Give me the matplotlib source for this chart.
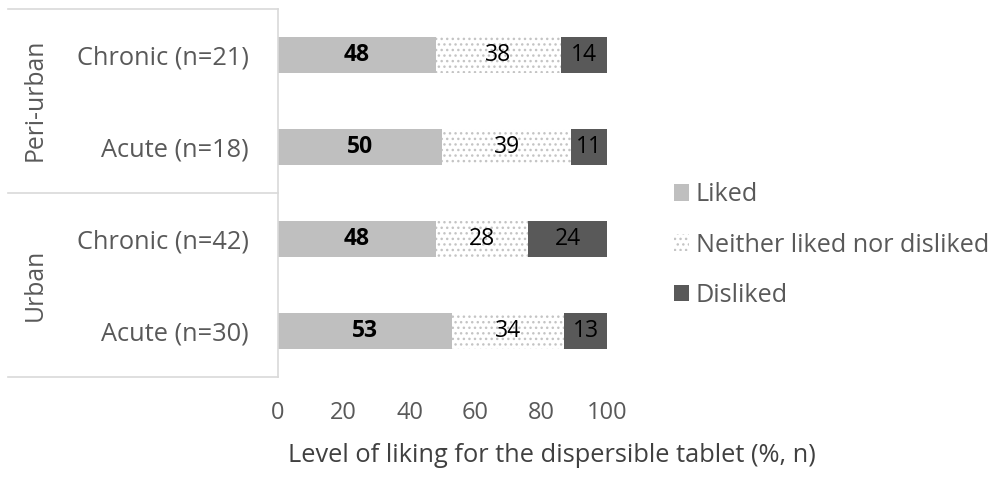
import matplotlib
matplotlib.use("Agg")
import matplotlib.pyplot as plt
from matplotlib.lines import Line2D
from matplotlib.patches import Patch

plt.rcParams['font.family'] = ['Open Sans', 'DejaVu Sans']
plt.rcParams['hatch.linewidth'] = 1.0

# Data (bottom to top)
categories = ["Acute (n=30)", "Chronic (n=42)", "Acute (n=18)", "Chronic (n=21)"]
groups = ["Urban", "Peri-urban"]
liked = [53, 48, 50, 48]
neither = [34, 28, 39, 38]
disliked = [13, 24, 11, 14]
series_names = ["Liked", "Neither liked nor disliked", "Disliked"]
x_ticks = [0, 20, 40, 60, 80, 100]

text_gray = "#595959"
dot_gray = "#C4C4C4"
fs = 18.3
fig = plt.figure(figsize=(10.01, 4.79), dpi=100)
ax = fig.add_axes([0.2777, 0.2129, 0.3287, 0.7683])

y = list(range(len(categories)))
h = 0.39
ax.barh(y, liked, height=h, color="#BFBFBF", linewidth=0)
left2 = liked
ax.barh(y, neither, left=left2, height=h, facecolor="white",
        edgecolor=dot_gray, hatch="...", linewidth=0)
left3 = [a + b for a, b in zip(liked, neither)]
ax.barh(y, disliked, left=left3, height=h, color="#595959", linewidth=0)

for i in y:
    ax.text(liked[i] / 2, i, str(liked[i]), ha="center", va="center",
            fontsize=16.5, fontweight="bold", color="black")
    ax.text(left2[i] + neither[i] / 2, i, str(neither[i]), ha="center",
            va="center", fontsize=16.5, color="black")
    ax.text(left3[i] + disliked[i] / 2, i, str(disliked[i]), ha="center",
            va="center", fontsize=16.5, color="black")

ax.set_xlim(0, 100)
ax.set_ylim(-0.5, 3.5)
ax.set_xticks(x_ticks)
ax.set_xticklabels([str(t) for t in x_ticks])
ax.set_yticks(y)
ax.set_yticklabels(categories, fontsize=fs)
ax.tick_params(axis="both", length=0, colors=text_gray)
ax.tick_params(axis="x", pad=17, labelsize=17)
ax.tick_params(axis="y", pad=21)
for s in ["top", "right", "bottom"]:
    ax.spines[s].set_visible(False)
ax.spines["left"].set_color("#D9D9D9")
ax.spines["left"].set_linewidth(1.2)
ax.set_xlabel("Level of liking for the dispersible tablet (%, n)",
              fontsize=fs, color="#404040")
ax.xaxis.set_label_coords((552 - 278) / 329, -(455 - 377) / 368, transform=ax.transAxes)
ax.xaxis.label.set_va("center")

# Group brackets on the left
x0 = 8 / 1001
x1 = 0.2777
for yy in [1 - 9 / 479, 1 - 193 / 479, 1 - 377 / 479]:
    fig.add_artist(Line2D([x0, x1], [yy, yy], color="#D9D9D9", lw=1.2,
                          transform=fig.transFigure))
fig.text(35 / 1001, 1 - 100 / 479, groups[1], rotation=90, ha="center",
         va="center", fontsize=17.8, color=text_gray)
fig.text(35 / 1001, 1 - 285 / 479, groups[0], rotation=90, ha="center",
         va="center", fontsize=17.8, color=text_gray)

handles = [Patch(facecolor="#BFBFBF", linewidth=0),
           Patch(facecolor="white", edgecolor=dot_gray, hatch="...", linewidth=0),
           Patch(facecolor="#595959", linewidth=0)]
leg = fig.legend(handles, series_names, loc="center left",
                 bbox_to_anchor=(651 / 1001, 1 - 245 / 479), frameon=False,
                 fontsize=18.1, handlelength=0.63, handleheight=0.63,
                 handletextpad=0.25, labelspacing=1.0, labelcolor=text_gray)

fig.savefig("out.png", dpi=100)
